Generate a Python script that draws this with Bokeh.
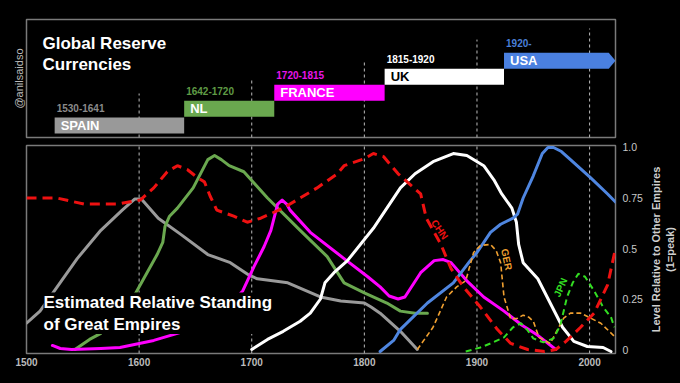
from bokeh.plotting import figure
from bokeh.models import Range1d, Label, FixedTicker, ColumnDataSource, Title
from bokeh.layouts import column, row
from bokeh.embed import file_html
from bokeh.resources import INLINE
from bokeh.core.properties import value
import math

FONT = "Liberation Sans"
BG = "#000000"
X0, X1 = 1500, 2023

# ---------------- data ----------------
# reserve-currency periods (top panel)
cur_names = ["SPAIN", "NL", "FRANCE", "UK", "USA"]
cur_years = ["1530-1641", "1642-1720", "1720-1815", "1815-1920", "1920-"]
cur_start = [1525, 1640, 1720, 1818, 1924]
cur_end = [1640, 1720, 1818, 1924, 2017]
cur_level = [0.25, 1.3, 2.3, 3.3, 4.3]
cur_colors = ["#999999", "#6aa84f", "#ff00ff", "#ffffff", "#4a80e0"]
cur_year_colors = ["#8a8a8a", "#5f9a45", "#e815e8", "#ffffff", "#4a7fd8"]
cur_text_colors = ["#ffffff", "#ffffff", "#ffffff", "#000000", "#ffffff"]

guide_years = [1600, 1700, 1800, 1900, 2000]
guide_tops = [2.75, 3.69, 4.81, 6.12, 6.81]

# relative standing (bottom panel)
spain_x = [1500, 1506, 1512, 1526, 1545, 1566, 1585, 1596, 1602, 1617, 1637, 1661, 1681, 1697, 1705,
           1732, 1761, 1779, 1800, 1806, 1814, 1832, 1847]
spain_y = [0.13, 0.16, 0.19, 0.30, 0.45, 0.59, 0.69, 0.745, 0.745, 0.65, 0.57, 0.47, 0.43, 0.37, 0.35,
           0.33, 0.26, 0.24, 0.23, 0.21, 0.18, 0.09, 0.0]

nl_x = [1543, 1556, 1566, 1580, 1597, 1607, 1616, 1621, 1623, 1627, 1634, 1648, 1661, 1667, 1673, 1680,
        1693, 1714, 1743, 1767, 1782, 1800, 1820, 1832, 1845, 1856]
nl_y = [0.0, 0.05, 0.08, 0.17, 0.28, 0.38, 0.47, 0.53, 0.61, 0.66, 0.70, 0.80, 0.94, 0.96, 0.94, 0.91,
        0.88, 0.75, 0.59, 0.46, 0.33, 0.28, 0.23, 0.19, 0.18, 0.18]

fr_x = [1523, 1530, 1540, 1566, 1583, 1613, 1637, 1655, 1670, 1682, 1692, 1702, 1711, 1717, 1723, 1727,
        1731, 1734, 1752, 1782, 1803, 1814, 1822, 1830, 1836, 1850, 1862, 1870, 1877, 1891, 1906, 1924,
        1940, 1954, 1970]
fr_y = [0.02, 0.005, 0.0, 0.005, 0.01, 0.045, 0.085, 0.135, 0.18, 0.23, 0.29, 0.41, 0.51, 0.59, 0.72, 0.74,
        0.72, 0.69, 0.58, 0.45, 0.36, 0.31, 0.265, 0.25, 0.26, 0.38, 0.44, 0.445, 0.43, 0.34, 0.26, 0.19,
        0.12, 0.07, 0.0]

uk_x = [1700, 1714, 1728, 1743, 1752, 1761, 1765, 1773, 1785, 1808, 1832, 1845, 1861, 1879, 1891, 1906,
        1915, 1922, 1931, 1935, 1937, 1941, 1954, 1965, 1976, 1986, 1998, 2012, 2019]
uk_y = [0.0, 0.05, 0.09, 0.14, 0.18, 0.25, 0.33, 0.38, 0.44, 0.60, 0.80, 0.87, 0.93, 0.97, 0.96, 0.91,
        0.84, 0.77, 0.70, 0.63, 0.52, 0.43, 0.35, 0.23, 0.11, 0.04, 0.015, 0.01, -0.01]

usa_x = [1814, 1826, 1832, 1856, 1879, 1894, 1900, 1912, 1921, 1932, 1936, 1941, 1950, 1958, 1963, 1968,
         1975, 1983, 2001, 2016, 2023]
usa_y = [-0.01, 0.045, 0.10, 0.23, 0.33, 0.44, 0.48, 0.58, 0.62, 0.65, 0.67, 0.75, 0.86, 0.97, 1.0, 1.0,
         0.98, 0.94, 0.85, 0.77, 0.73]

chn_x = [1500, 1527, 1551, 1581, 1601, 1613, 1625, 1634, 1643, 1652, 1658, 1663, 1669, 1684, 1696, 1708,
         1728, 1758, 1776, 1782, 1800, 1808, 1817, 1830, 1838, 1850, 1855, 1868, 1877, 1888, 1903, 1918,
         1930, 1945, 1960, 1970, 1979, 1992, 2004, 2016, 2023]
chn_y = [0.75, 0.75, 0.72, 0.72, 0.74, 0.80, 0.88, 0.91, 0.89, 0.85, 0.83, 0.76, 0.69, 0.66, 0.63, 0.65,
         0.70, 0.80, 0.87, 0.91, 0.945, 0.97, 0.955, 0.87, 0.83, 0.77, 0.65, 0.52, 0.40, 0.31, 0.21, 0.10,
         0.03, 0.0, -0.01, 0.0, 0.04, 0.11, 0.18, 0.32, 0.50]

ger_x = [1847, 1861, 1873, 1882, 1890, 1894, 1897, 1903, 1912, 1917, 1921, 1924, 1930, 1936, 1941, 1946,
         1950, 1955, 1965, 1977, 1983, 1992, 2010, 2023]
ger_y = [0.0, 0.11, 0.26, 0.31, 0.34, 0.42, 0.48, 0.515, 0.52, 0.49, 0.43, 0.26, 0.15, 0.155, 0.17, 0.16,
         0.14, 0.06, 0.03, 0.155, 0.18, 0.18, 0.13, 0.06]

jpn_x = [1890, 1903, 1912, 1924, 1932, 1939, 1945, 1950, 1959, 1968, 1974, 1980, 1985, 1990, 1996, 2004,
         2012, 2019, 2022]
jpn_y = [-0.01, 0.01, 0.03, 0.06, 0.11, 0.13, 0.095, 0.055, 0.035, 0.055, 0.12, 0.26, 0.33, 0.375, 0.36,
         0.29, 0.21, 0.16, 0.11]

x_ticks = [1500, 1600, 1700, 1800, 1900, 2000]
y_ticks = [0, 0.25, 0.5, 0.75, 1.0]
y_tick_labels = ["0", "0.25", "0.5", "0.75", "1.0"]
y_title = "Level Relative to Other Empires\n(1=peak)"

# ---------------- top panel ----------------
top = figure(width=680, height=140, x_range=Range1d(X0, X1), y_range=Range1d(0, 7.375),
             output_backend="svg", toolbar_location=None,
             x_axis_location=None, y_axis_location=None,
             min_border_left=26, min_border_right=65, min_border_top=19, min_border_bottom=3,
             background_fill_color=BG, border_fill_color=BG,
             outline_line_color="#7a7a7a", outline_line_width=1.5)
top.grid.visible = False

top.segment(x0=guide_years, y0=[0] * len(guide_years), x1=guide_years, y1=guide_tops,
            line_color="#bbbbbb", line_width=1, line_dash="3 3")

top.quad(left=cur_start[:-1], right=cur_end[:-1], bottom=cur_level[:-1],
         top=[b + 1 for b in cur_level[:-1]], fill_color=cur_colors[:-1], line_color=None)
# USA bar as an arrow running to the end of the axis
ub, ut = cur_level[-1], cur_level[-1] + 1
top.patch(x=[cur_start[-1], cur_end[-1], X1, cur_end[-1], cur_start[-1]],
          y=[ub, ub, (ub + ut) / 2, ut, ut], fill_color=cur_colors[-1], line_color=None)

src_names = ColumnDataSource(dict(x=cur_start, y=[b + 0.5 for b in cur_level], t=cur_names,
                                  c=cur_text_colors))
top.text(x="x", y="y", text="t", text_color="c", source=src_names, x_offset=6,
         text_font=value(FONT), text_font_style="bold", text_font_size="13px",
         text_baseline="middle", text_align="left")
src_years = ColumnDataSource(dict(x=cur_start, y=[b + 1.6 for b in cur_level], t=cur_years,
                                  c=cur_year_colors))
top.text(x="x", y="y", text="t", text_color="c", source=src_years, x_offset=2,
         text_font=value(FONT), text_font_style="bold", text_font_size="10px",
         text_baseline="middle", text_align="left")

top.add_layout(Label(x=1514.2, y=6.5, text="Global Reserve\nCurrencies", text_color="#ffffff",
                     text_font=FONT, text_font_style="bold", text_font_size="17px",
                     text_baseline="top", text_align="left", text_line_height=1.15))
top.add_layout(Title(text="@anilsaidso", align="center", text_color="#bbbbbb", text_font=FONT,
                     text_font_style="normal", text_font_size="11px", standoff=3, offset=0),
               "left")

# ---------------- bottom panel ----------------
bot = figure(width=645, height=243, x_range=Range1d(X0, X1), y_range=Range1d(-0.0198, 1.0099),
             output_backend="svg", toolbar_location=None, y_axis_location="right",
             min_border_left=26, min_border_right=30, min_border_top=5, min_border_bottom=30,
             background_fill_color=BG, border_fill_color=BG,
             outline_line_color="#7a7a7a", outline_line_width=1.5)
bot.grid.visible = False

bot.segment(x0=guide_years, y0=[-0.0198] * len(guide_years), x1=guide_years,
            y1=[1.0099] * len(guide_years), line_color="#bbbbbb", line_width=1, line_dash="3 3")

solid = dict(line_width=3, line_join="round", line_cap="round")
bot.line(spain_x, spain_y, line_color="#9a9a9a", **solid)
bot.line(nl_x, nl_y, line_color="#6aa84f", **solid)
bot.line(fr_x, fr_y, line_color="#ff00ff", **solid)
bot.line(uk_x, uk_y, line_color="#ffffff", **solid)
bot.line(usa_x, usa_y, line_color="#4f86e0", **solid)
bot.line(ger_x, ger_y, line_color="#f0a030", line_width=1.6, line_dash="5 3")
bot.line(jpn_x, jpn_y, line_color="#33dd22", line_width=2, line_dash="6 4")
bot.line(chn_x, chn_y, line_color="#ee1111", line_width=3, line_dash="10 6")

bot.add_layout(Label(x=1866.8, y=0.594, text="CHN", text_color="#ee1111", angle=math.radians(-55),
                     text_font=FONT, text_font_style="bold", text_font_size="10px",
                     text_baseline="middle", text_align="center"))
bot.add_layout(Label(x=1926.3, y=0.446, text="GER", text_color="#f0a030", angle=math.radians(-78),
                     text_font=FONT, text_font_style="bold", text_font_size="10px",
                     text_baseline="middle", text_align="center"))
bot.add_layout(Label(x=1974.2, y=0.307, text="JPN", text_color="#33dd22", angle=math.radians(66),
                     text_font=FONT, text_font_style="bold", text_font_size="10px",
                     text_baseline="middle", text_align="center"))

bot.add_layout(Label(x=1515.1, y=0.282, text="Estimated Relative Standing\nof Great Empires",
                     text_color="#ffffff", background_fill_color=BG, text_font=FONT,
                     text_font_style="bold", text_font_size="17px", text_baseline="top",
                     text_align="left", text_line_height=1.18))

xa = bot.xaxis[0]
xa.ticker = FixedTicker(ticks=x_ticks)
xa.axis_line_color = None
xa.major_tick_line_color = None
xa.minor_tick_line_color = None
xa.major_tick_out = 0
xa.minor_tick_out = 0
xa.major_label_standoff = 4
xa.major_label_text_color = "#bbbbbb"
xa.major_label_text_font = FONT
xa.major_label_text_font_style = "bold"
xa.major_label_text_font_size = "10px"

ya = bot.yaxis[0]
ya.ticker = FixedTicker(ticks=y_ticks)
ya.major_label_overrides = {t: s for t, s in zip(y_ticks, y_tick_labels)}
ya.axis_line_color = None
ya.major_tick_line_color = None
ya.minor_tick_line_color = None
ya.major_tick_out = 0
ya.minor_tick_out = 0
ya.major_label_standoff = 7
ya.major_label_text_color = "#c8c8c8"
ya.major_label_text_font = FONT
ya.major_label_text_font_size = "10.5px"

# narrow side panel carrying the rotated right-hand axis title
side = figure(width=35, height=243, x_range=Range1d(0, 1), y_range=Range1d(0, 1),
              output_backend="svg", toolbar_location=None, x_axis_location=None,
              y_axis_location="left", min_border_left=34, min_border_right=0,
              min_border_top=5, min_border_bottom=30,
              background_fill_color=BG, border_fill_color=BG, outline_line_color=None)
side.grid.visible = False
sa = side.yaxis[0]
sa.ticker = FixedTicker(ticks=[])
sa.axis_line_color = None
sa.major_tick_line_color = None
sa.minor_tick_line_color = None
sa.major_tick_out = 0
sa.minor_tick_out = 0
sa.major_label_standoff = 0
sa.axis_label = y_title
sa.axis_label_standoff = 4
sa.axis_label_text_color = "#cfcfcf"
sa.axis_label_text_font = FONT
sa.axis_label_text_font_style = "bold"
sa.axis_label_text_font_size = "11px"
sa.axis_label_text_line_height = 1.15

layout = column(top, row(bot, side, spacing=0), spacing=0, styles={"background-color": BG})
html = file_html(layout, INLINE)
html = html.replace("<body>", '<body style="background-color:#000000;">', 1)
open("out.html", "w").write(html)
